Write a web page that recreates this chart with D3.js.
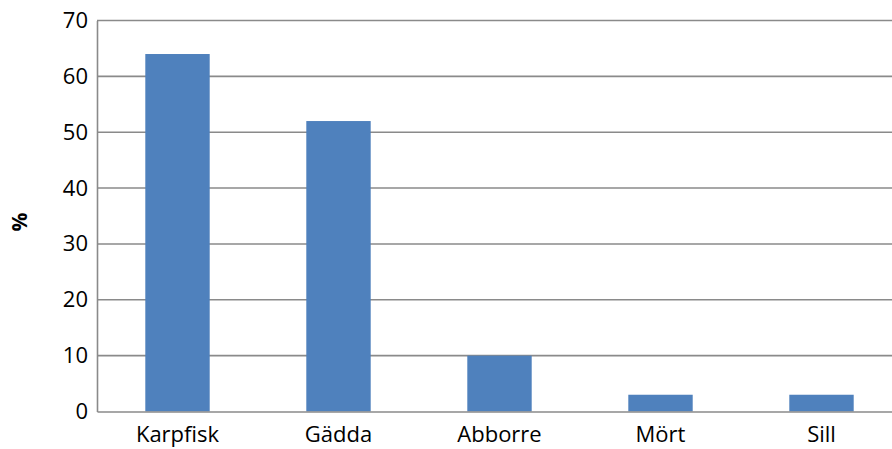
<!DOCTYPE html>
<html>
<head>
<meta charset="utf-8">
<script src="https://cdn.jsdelivr.net/npm/d3@7"></script>
<style>
  html, body { margin: 0; padding: 0; background: #fff; }
  svg { display: block; }
  text { font-family: "Open Sans", "Liberation Sans", sans-serif; fill: #000; }
</style>
</head>
<body>
<svg id="chart" width="892" height="449"></svg>
<script>
// Share of each fish type, in percent
const categories = ["Karpfisk", "Gädda", "Abborre", "Mört", "Sill"];
const values = [64, 52, 10, 3, 3];
const yTicks = [0, 10, 20, 30, 40, 50, 60, 70];
const yLabel = "%";

const svg = d3.select("#chart");
const plotLeft = 97, plotRight = 902, plotTop = 20.5, plotBottom = 411.5;
const fontSize = "22px";

const x = d3.scaleBand()
  .domain(categories)
  .range([plotLeft, plotRight])
  .paddingInner(0.6)
  .paddingOuter(0.3);

const y = d3.scaleLinear()
  .domain([0, 70])
  .range([plotBottom, plotTop]);

const gridColor = "#8a8a8a";

// horizontal gridlines
svg.append("g")
  .selectAll("line")
  .data(yTicks.filter(d => d > 0))
  .join("line")
  .attr("x1", plotLeft).attr("x2", plotRight)
  .attr("y1", d => y(d)).attr("y2", d => y(d))
  .attr("stroke", gridColor)
  .attr("stroke-width", 1.6);

// bars
svg.append("g")
  .selectAll("rect")
  .data(categories)
  .join("rect")
  .attr("x", d => x(d))
  .attr("width", x.bandwidth())
  .attr("y", (d, i) => y(values[i]))
  .attr("height", (d, i) => y(0) - y(values[i]))
  .attr("fill", "#4F81BD");

// y axis
const yAxis = d3.axisLeft(y).tickValues(yTicks).tickSize(0).tickPadding(9);
const gy = svg.append("g").attr("transform", `translate(${plotLeft},0)`).call(yAxis);
gy.select(".domain").attr("stroke", gridColor).attr("stroke-width", 1.6);
gy.selectAll("text").style("font-size", fontSize).attr("font-family", null);

// x axis
const xAxis = d3.axisBottom(x).tickSize(0).tickPadding(15);
const gx = svg.append("g").attr("transform", `translate(0,${plotBottom})`).call(xAxis);
gx.select(".domain").attr("stroke", gridColor).attr("stroke-width", 1.6);
gx.selectAll("text").style("font-size", fontSize).attr("font-family", null);

// y axis title
svg.append("text")
  .attr("transform", `translate(27,222) rotate(-90)`)
  .attr("text-anchor", "middle")
  .style("font-size", "21px")
  .style("font-weight", "bold")
  .text(yLabel);
</script>
</body>
</html>
